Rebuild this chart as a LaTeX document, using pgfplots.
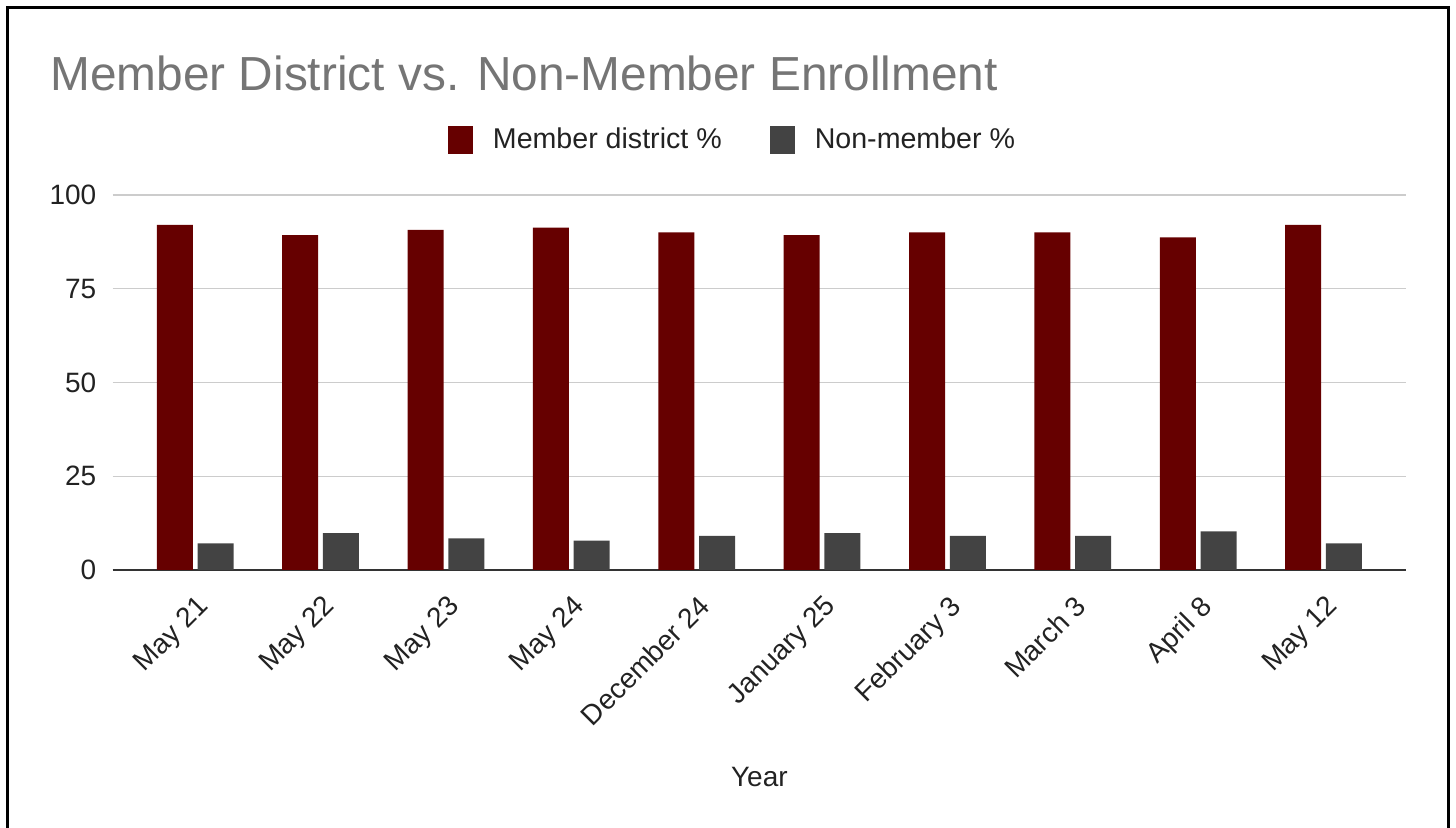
\documentclass[border=0pt]{standalone}
\usepackage{pgfplots}
\pgfplotsset{compat=1.18}
\usepackage{fontspec}
\setmainfont{Liberation Sans}
\definecolor{member}{HTML}{660000}
\definecolor{nonmember}{HTML}{434343}
\definecolor{titlegray}{HTML}{757575}
\definecolor{labelc}{HTML}{222222}
\definecolor{gridc}{HTML}{CCCCCC}
\definecolor{axisc}{HTML}{333333}
\begin{document}
\begin{tikzpicture}
\useasboundingbox (0,0) rectangle (728pt,414pt);
\draw[line width=1.5pt] (3.6pt,-5pt) rectangle (724.2pt,410.3pt);
\begin{axis}[
  at={(56.35pt,129pt)}, anchor=south west,
  scale only axis, width=646.65pt, height=187.5pt,
  xmin=-0.658, xmax=9.658, ymin=0, ymax=100,
  ybar=2.4pt, bar width=18pt,
  xtick={0,...,9},
  xticklabels={May 21,May 22,May 23,May 24,December 24,January 25,February 3,March 3,April 8,May 12},
  ytick={0,25,50,75,100},
  /pgf/number format/assume math mode=true,
  axis lines*=left,
  x axis line style={draw=axisc, line width=0.8pt},
  y axis line style={draw=none},
  major tick length=0pt,
  ymajorgrids, grid style={draw=gridc, line width=0.7pt},
  tick label style={font=\fontsize{14}{16}\selectfont, text=labelc},
  yticklabel style={anchor=east, inner sep=0pt, xshift=-8pt},
  xticklabel style={rotate=45, anchor=north east, inner sep=0pt, xshift=-8pt, yshift=-8.5pt},
  xlabel={Year},
  xlabel style={at={(axis description cs:0.5,0)}, anchor=center, yshift=-103.5pt, font=\fontsize{14}{16}\selectfont, text=labelc},
  title={Member District vs. Non-Member Enrollment},
  title style={at={(axis description cs:-0.0485,1)}, anchor=base west, yshift=46pt, font=\fontsize{23.9}{27}\selectfont, text=titlegray, inner sep=0pt},
  legend columns=2,
  legend image code/.code={\fill[#1] (0pt,-7pt) rectangle (12.5pt,7pt);},
  legend style={draw=none, at={(0.48,1.147)}, anchor=center, font=\fontsize{14.3}{16}\selectfont, text=labelc,
    /tikz/every odd column/.append style={column sep=8pt},
    /tikz/every even column/.append style={column sep=22pt}},
]
\addplot[fill=member, draw=none] coordinates {(0,92.0) (1,89.3) (2,90.7) (3,91.3) (4,90.0) (5,89.3) (6,90.0) (7,90.0) (8,88.7) (9,92.0)};
\addlegendentry{Member district \%}
\addplot[fill=nonmember, draw=none] coordinates {(0,7.1) (1,9.8) (2,8.4) (3,7.8) (4,9.1) (5,9.8) (6,9.1) (7,9.1) (8,10.3) (9,7.1)};
\addlegendentry{Non-member \%}
\end{axis}
\end{tikzpicture}
\end{document}
